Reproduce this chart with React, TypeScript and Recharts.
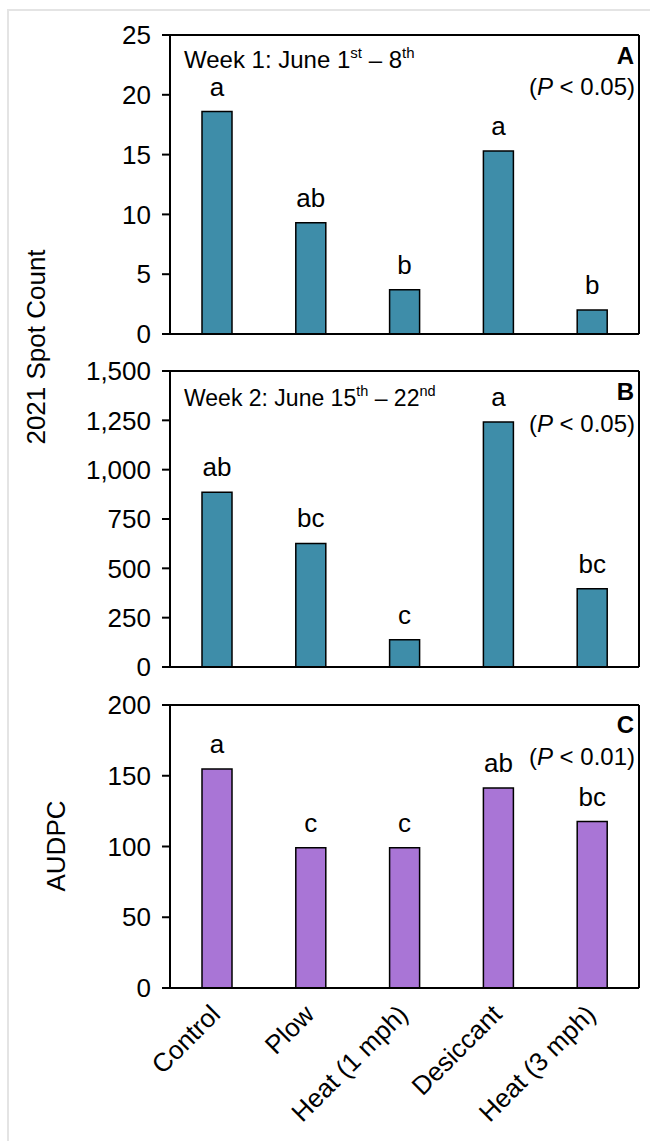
import React from "react";
import { Bar, BarChart, CartesianGrid, LabelList, XAxis, YAxis } from "recharts";

const categories = ["Control", "Plow", "Heat (1 mph)", "Desiccant", "Heat (3 mph)"];

const week1Counts = [18.6, 9.3, 3.7, 15.3, 2.0];
const week1Letters = ["a", "ab", "b", "a", "b"];
const week1Ticks = [0, 5, 10, 15, 20, 25];

const week2Counts = [886, 626, 138, 1241, 396];
const week2Letters = ["ab", "bc", "c", "a", "bc"];
const week2Ticks = [0, 250, 500, 750, 1000, 1250, 1500];

const audpcValues = [154.8, 99.2, 99.2, 141.3, 117.6];
const audpcLetters = ["a", "c", "c", "ab", "bc"];
const audpcTicks = [0, 50, 100, 150, 200];

const FONT = '"Liberation Sans", Arial, sans-serif';
const TEAL = "#3e8da9";
const PURPLE = "#a975d6";

const build = (values: number[], letters: string[]) =>
  categories.map((name, i) => ({ name, value: values[i], letter: letters[i] }));

const XTick = (props: any) => {
  const { x, y, payload } = props;
  return (
    <text
      transform={`translate(${x + 5},${y + 28}) rotate(-45)`}
      textAnchor="end"
      fontSize={26}
      fill="#000"
      fontFamily={FONT}
    >
      {payload.value}
    </text>
  );
};

// frame lines on the plot box edges
const edgeRows = ({ offset }: any) => [offset.top, offset.top + offset.height];
const edgeCols = ({ offset }: any) => [offset.left, offset.left + offset.width];

function Panel({
  top,
  height,
  marginTop,
  marginBottom,
  values,
  letters,
  ticks,
  color,
  withLabels,
}: {
  top: number;
  height: number;
  marginTop: number;
  marginBottom: number;
  values: number[];
  letters: string[];
  ticks: number[];
  color: string;
  withLabels?: boolean;
}) {
  const data = build(values, letters);
  const domain = [ticks[0], ticks[ticks.length - 1]];
  const axisLine = { stroke: "#000", strokeWidth: 2 };
  return (
    <div style={{ position: "absolute", left: 0, top }}>
      <BarChart
        width={650}
        height={height}
        data={data}
        margin={{ top: marginTop, right: 11, left: 110, bottom: marginBottom }}
        barSize={30}
        style={{ fontFamily: FONT }}
      >
        <CartesianGrid
          stroke="#000"
          strokeWidth={2}
          horizontalCoordinatesGenerator={edgeRows}
          verticalCoordinatesGenerator={edgeCols}
        />
        <XAxis
          dataKey="name"
          tickLine={false}
          axisLine={axisLine}
          tickSize={0}
          tickMargin={0}
          height={withLabels ? 153 : 8}
          tick={withLabels ? <XTick /> : false}
          interval={0}
        />
        <YAxis
          domain={domain}
          ticks={ticks}
          interval={0}
          width={60}
          axisLine={axisLine}
          tickLine={{ stroke: "#000", strokeWidth: 2 }}
          tickSize={8}
          tickMargin={11}
          tick={{ fill: "#000", fontSize: 26, fontFamily: FONT }}
          tickFormatter={(v: number) => v.toLocaleString("en-US")}
        />
        <Bar dataKey="value" fill={color} stroke="#000" strokeWidth={1.5} isAnimationActive={false}>
          <LabelList
            dataKey="letter"
            position="top"
            offset={16}
            fill="#000"
            fontSize={26}
            fontFamily={FONT}
          />
        </Bar>
      </BarChart>
    </div>
  );
}

export default function App() {
  return (
    <div style={{ position: "relative", width: 650, height: 1141, background: "#fff", fontFamily: FONT }}>
      <style>{`body{margin:0}`}</style>
      <div
        style={{
          position: "absolute",
          left: 7,
          top: 9,
          width: 700,
          height: 1200,
          borderLeft: "2px solid #e4e4e4",
          borderTop: "2px solid #e4e4e4",
        }}
      />
      <Panel top={0} height={360} marginTop={35} marginBottom={18} values={week1Counts} letters={week1Letters} ticks={week1Ticks} color={TEAL} />
      <Panel top={345} height={345} marginTop={26} marginBottom={15} values={week2Counts} letters={week2Letters} ticks={week2Ticks} color={TEAL} />
      <Panel top={675} height={466} marginTop={30} marginBottom={0} values={audpcValues} letters={audpcLetters} ticks={audpcTicks} color={PURPLE} withLabels />
      <svg
        width={650}
        height={1141}
        style={{ position: "absolute", left: 0, top: 0, pointerEvents: "none" }}
        fontFamily={FONT}
        fill="#000"
      >
        <text transform="translate(45,347) rotate(-90)" textAnchor="middle" fontSize={26}>
          2021 Spot Count
        </text>
        <text transform="translate(65,846) rotate(-90)" textAnchor="middle" fontSize={26}>
          AUDPC
        </text>

        <text x={184} y={68} fontSize={24}>
          Week 1: June 1<tspan dy={-10} fontSize={15}>st</tspan>
          <tspan dy={10} fontSize={24}> – 8</tspan>
          <tspan dy={-10} fontSize={15}>th</tspan>
        </text>
        <text x={634} y={64} fontSize={24} fontWeight="bold" textAnchor="end">A</text>
        <text x={635} y={95} fontSize={24} textAnchor="end">
          (<tspan fontStyle="italic">P</tspan> &lt; 0.05)
        </text>

        <text x={184} y={406} fontSize={23}>
          Week 2: June 15<tspan dy={-10} fontSize={14.5}>th</tspan>
          <tspan dy={10} fontSize={23}> – 22</tspan>
          <tspan dy={-10} fontSize={14.5}>nd</tspan>
        </text>
        <text x={634} y={400} fontSize={24} fontWeight="bold" textAnchor="end">B</text>
        <text x={635} y={432} fontSize={24} textAnchor="end">
          (<tspan fontStyle="italic">P</tspan> &lt; 0.05)
        </text>

        <text x={634} y={733} fontSize={24} fontWeight="bold" textAnchor="end">C</text>
        <text x={635} y={765} fontSize={24} textAnchor="end">
          (<tspan fontStyle="italic">P</tspan> &lt; 0.01)
        </text>
      </svg>
    </div>
  );
}
